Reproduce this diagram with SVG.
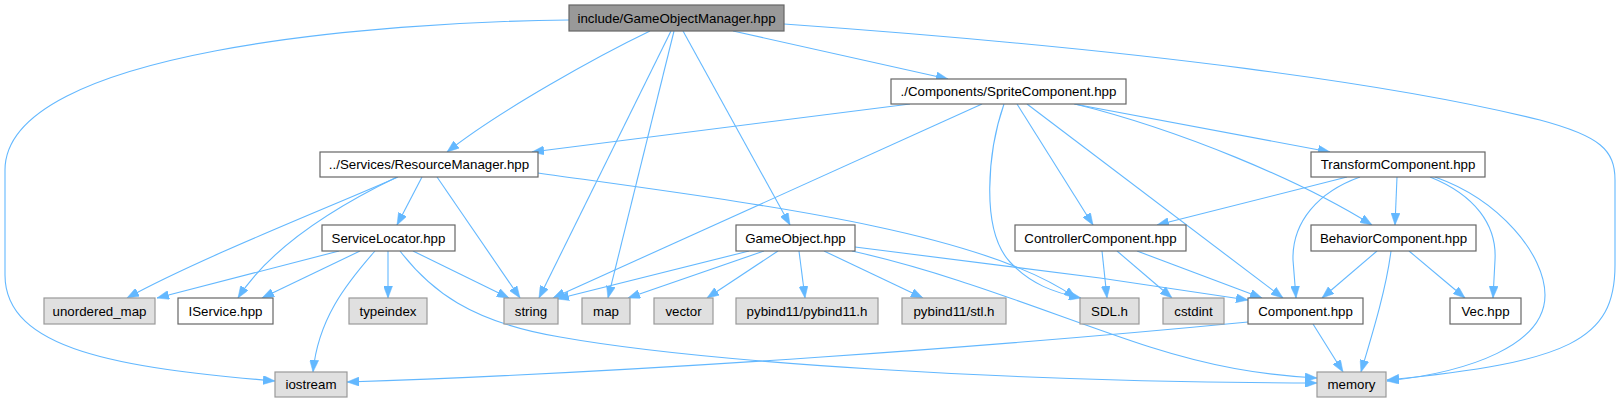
<svg xmlns="http://www.w3.org/2000/svg" width="1621" height="403" viewBox="0 0 1621 403">
<style>
.e{fill:none;stroke:#63b8ff;stroke-width:1.1;marker-end:url(#ah)}
.n rect{stroke-width:1.2}
.w rect{fill:#ffffff;stroke:#666666}
.g rect{fill:#e0e0e0;stroke:#999999}
.r rect{fill:#999999;stroke:#666666}
text{font-family:"Liberation Sans",Arial,sans-serif;font-size:13.3px;fill:#000;text-anchor:middle}
</style>
<defs>
<marker id="ah" viewBox="0 0 12 9" refX="12" refY="4.5" markerWidth="12" markerHeight="9" markerUnits="userSpaceOnUse" orient="auto">
<path d="M0,0 L12,4.5 L0,9 z" fill="#63b8ff" stroke="#63b8ff" stroke-width="0.5"/>
</marker>
</defs>
<rect width="1621" height="403" fill="#ffffff"/>
<g id="edges">
<path class="e" d="M569,20 C380,22 5,50 5,170 L5,275 C5,350 120,368 275,381"/>
<path class="e" d="M650,31 C600,55 500,110 447,152"/>
<path class="e" d="M671,31 L539,298"/>
<path class="e" d="M674,31 L608,298"/>
<path class="e" d="M683,31 L790,225"/>
<path class="e" d="M733,31 L948,79"/>
<path class="e" d="M784,24 C1150,50 1400,85 1540,120 C1600,136 1615,150 1615,180 L1615,265 C1615,340 1570,362 1387,380"/>
<path class="e" d="M910,104 L532,152"/>
<path class="e" d="M982,104 L553,298"/>
<path class="e" d="M1004,104 C988,150 980,230 1010,262 C1030,284 1055,293 1081,298"/>
<path class="e" d="M1017,104 L1093,225"/>
<path class="e" d="M1027,104 L1283,298"/>
<path class="e" d="M1075,104 C1180,130 1300,180 1372,225"/>
<path class="e" d="M1074,104 L1330,152"/>
<path class="e" d="M398,177 C330,207 200,258 127,298"/>
<path class="e" d="M397,177 C335,207 270,248 238,298"/>
<path class="e" d="M422,177 L397,225"/>
<path class="e" d="M437,177 L520,298"/>
<path class="e" d="M538,173 C750,203 980,230 1076,298"/>
<path class="e" d="M1347,177 L1157,225"/>
<path class="e" d="M1397,177 L1395,225"/>
<path class="e" d="M1360,177 C1318,192 1292,222 1293,260 L1296,298"/>
<path class="e" d="M1430,177 C1475,195 1497,225 1495,260 L1493,298"/>
<path class="e" d="M1435,177 C1500,200 1545,255 1545,295 C1545,345 1470,372 1387,381"/>
<path class="e" d="M339,251 L157,298"/>
<path class="e" d="M360,251 L262,298"/>
<path class="e" d="M388,251 L388,298"/>
<path class="e" d="M413,251 L509,298"/>
<path class="e" d="M375,251 C345,285 318,320 313,372"/>
<path class="e" d="M400,251 C430,290 470,322 560,337 C700,362 1000,382 1317,383"/>
<path class="e" d="M749,251 L557,299"/>
<path class="e" d="M764,251 L628,298"/>
<path class="e" d="M778,251 L707,298"/>
<path class="e" d="M799,251 L805,298"/>
<path class="e" d="M824,251 L923,298"/>
<path class="e" d="M852,251 C960,275 1060,318 1150,347 C1210,366 1260,375 1317,378"/>
<path class="e" d="M855,247 L1100,278 L1248,300"/>
<path class="e" d="M1102,251 L1107,298"/>
<path class="e" d="M1117,251 L1172,298"/>
<path class="e" d="M1137,251 L1262,298"/>
<path class="e" d="M1377,251 L1322,298"/>
<path class="e" d="M1391,251 C1386,290 1372,335 1361,372"/>
<path class="e" d="M1409,251 L1465,298"/>
<path class="e" d="M1313,324 L1343,372"/>
<path class="e" d="M1248,322 C1000,346 650,372 347,382"/>
</g>
<g id="node-gom" class="n r"><rect x="569" y="5" width="215" height="26"/><text x="676.5" y="22.5">include/GameObjectManager.hpp</text></g>
<g id="node-sprite" class="n w"><rect x="891" y="79" width="235" height="25"/><text x="1008.5" y="96">./Components/SpriteComponent.hpp</text></g>
<g id="node-resource" class="n w"><rect x="320" y="152" width="218" height="25"/><text x="429" y="169">../Services/ResourceManager.hpp</text></g>
<g id="node-transform" class="n w"><rect x="1311" y="152" width="174" height="25"/><text x="1398" y="169">TransformComponent.hpp</text></g>
<g id="node-servicelocator" class="n w"><rect x="322" y="225" width="133" height="26"/><text x="388.5" y="242.5">ServiceLocator.hpp</text></g>
<g id="node-gameobject" class="n w"><rect x="736" y="225" width="119" height="26"/><text x="795.5" y="242.5">GameObject.hpp</text></g>
<g id="node-controller" class="n w"><rect x="1015" y="225" width="171" height="26"/><text x="1100.5" y="242.5">ControllerComponent.hpp</text></g>
<g id="node-behavior" class="n w"><rect x="1311" y="225" width="165" height="26"/><text x="1393.5" y="242.5">BehaviorComponent.hpp</text></g>
<g id="node-unordered_map" class="n g"><rect x="44" y="298" width="111" height="26"/><text x="99.5" y="315.5">unordered_map</text></g>
<g id="node-iservice" class="n w"><rect x="178" y="298" width="95" height="26"/><text x="225.5" y="315.5">IService.hpp</text></g>
<g id="node-typeindex" class="n g"><rect x="349" y="298" width="78" height="26"/><text x="388" y="315.5">typeindex</text></g>
<g id="node-string" class="n g"><rect x="504" y="298" width="54" height="26"/><text x="531" y="315.5">string</text></g>
<g id="node-map" class="n g"><rect x="582" y="298" width="48" height="26"/><text x="606" y="315.5">map</text></g>
<g id="node-vector" class="n g"><rect x="654" y="298" width="59" height="26"/><text x="683.5" y="315.5">vector</text></g>
<g id="node-pybind11" class="n g"><rect x="736" y="298" width="142" height="26"/><text x="807" y="315.5">pybind11/pybind11.h</text></g>
<g id="node-stl" class="n g"><rect x="902" y="298" width="104" height="26"/><text x="954" y="315.5">pybind11/stl.h</text></g>
<g id="node-sdl" class="n g"><rect x="1080" y="298" width="59" height="26"/><text x="1109.5" y="315.5">SDL.h</text></g>
<g id="node-cstdint" class="n g"><rect x="1163" y="298" width="61" height="26"/><text x="1193.5" y="315.5">cstdint</text></g>
<g id="node-component" class="n w"><rect x="1248" y="298" width="115" height="26"/><text x="1305.5" y="315.5">Component.hpp</text></g>
<g id="node-vec" class="n w"><rect x="1450" y="298" width="71" height="26"/><text x="1485.5" y="315.5">Vec.hpp</text></g>
<g id="node-iostream" class="n g"><rect x="275" y="372" width="72" height="25"/><text x="311" y="389">iostream</text></g>
<g id="node-memory" class="n g"><rect x="1317" y="372" width="69" height="25"/><text x="1351.5" y="389">memory</text></g>
</svg>
